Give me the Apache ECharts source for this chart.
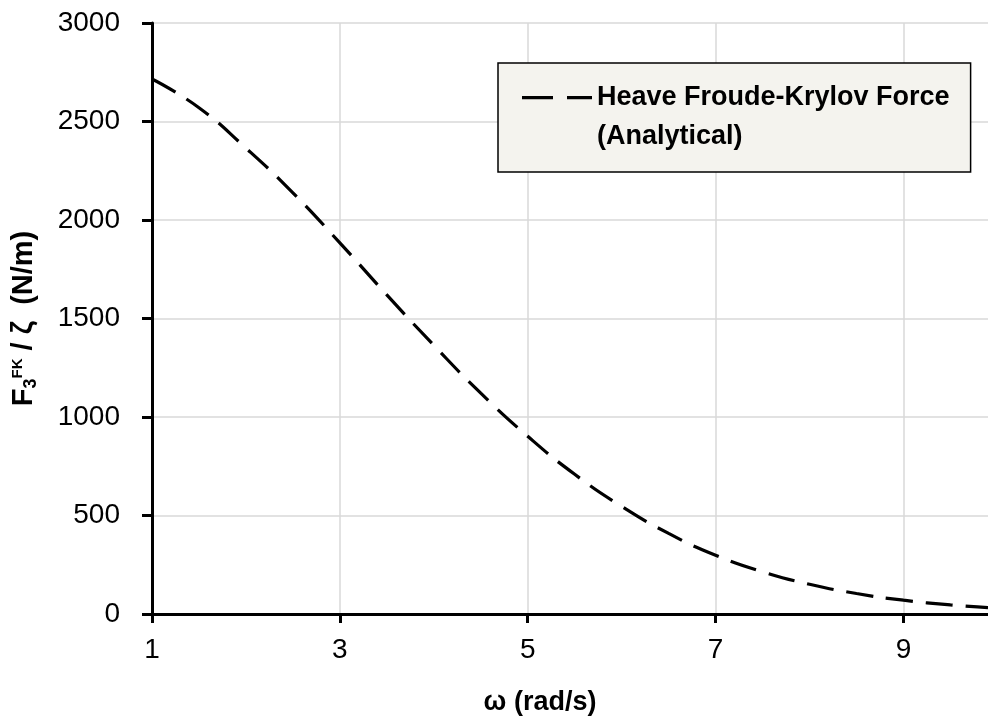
<!DOCTYPE html>
<html>
<head>
<meta charset="utf-8">
<script src="https://cdn.jsdelivr.net/npm/echarts@6/dist/echarts.min.js"></script>
<style>html,body{margin:0;padding:0;background:#fff;}#chart{width:988px;height:720px;}</style>
</head>
<body>
<div id="chart"></div>
<script>
// Data
const omega = [1, 1.5, 2, 2.5, 3, 3.5, 4, 4.5, 5, 5.5, 6, 6.5, 7, 7.5, 8, 8.5, 9, 9.5, 9.9];
const heaveFK = [2716, 2570, 2365, 2138, 1884, 1620, 1364, 1121, 902, 709, 546, 409, 298, 214, 151, 104, 70, 46, 32];
const xTicks = [1, 3, 5, 7, 9];
const seriesName = 'Heave Froude-Krylov Force (Analytical)';
const legendLines = ['Heave Froude-Krylov Force', '(Analytical)'];

const FONT = 'Liberation Sans';
const chart = echarts.init(document.getElementById('chart'));
const pts = omega.map((x, i) => [x, heaveFK[i]]);

chart.setOption({
  animation: false,
  backgroundColor: '#ffffff',
  grid: { left: 152, top: 23, right: 0, bottom: 106, containLabel: false, outerBoundsMode: 'none' },
  xAxis: {
    type: 'value',
    min: 1,
    max: 9.9,
    name: 'ω (rad/s)',
    nameLocation: 'middle',
    nameGap: 75,
    nameTextStyle: { fontFamily: FONT, fontSize: 27, fontWeight: 'bold', color: '#000', padding: [0, 60, 0, 0] },
    axisLine: { show: true, onZero: false, lineStyle: { color: '#000', width: 3 } },
    axisTick: { show: true, inside: false, length: 9, lineStyle: { color: '#000', width: 3 }, customValues: xTicks },
    axisLabel: { fontFamily: FONT, fontSize: 28, color: '#000', margin: 22, customValues: xTicks, formatter: v => String(v) },
    splitLine: { show: true, lineStyle: { color: '#d9d9d9', width: 1.5 }, customValues: xTicks }
  },
  yAxis: {
    type: 'value',
    min: 0,
    max: 3000,
    interval: 500,
    name: '{b|F}{sub|3}{sup|FK}{b| / ζ  (N/m)}',
    nameLocation: 'middle',
    nameGap: 108,
    nameTextStyle: {
      fontFamily: FONT, fontSize: 28, fontWeight: 'bold', color: '#000',
      rich: {
        b: { fontFamily: FONT, fontSize: 29, fontWeight: 'bold', color: '#000', lineHeight: 40, verticalAlign: 'middle' },
        sub: { fontFamily: FONT, fontSize: 18, fontWeight: 'bold', color: '#000', lineHeight: 40, verticalAlign: 'bottom', padding: [0, 0, 4, 0] },
        sup: { fontFamily: FONT, fontSize: 15, fontWeight: 'bold', color: '#000', lineHeight: 40, verticalAlign: 'top', padding: [6, 0, 0, 0] }
      }
    },
    axisLine: { show: true, lineStyle: { color: '#000', width: 3 } },
    axisTick: { show: true, inside: false, length: 10, lineStyle: { color: '#000', width: 3 } },
    axisLabel: { fontFamily: FONT, fontSize: 28, color: '#000', margin: 32, formatter: v => String(v) },
    splitLine: { show: true, lineStyle: { color: '#d9d9d9', width: 1.5 } }
  },
  legend: {
    left: 498,
    top: 63,
    orient: 'vertical',
    padding: [15, 21, 16, 24],
    backgroundColor: '#f4f3ee',
    borderColor: '#000',
    borderWidth: 1.5,
    borderRadius: 0,
    itemWidth: 70,
    itemHeight: 78,
    symbolKeepAspect: false,
    itemStyle: { color: '#000', borderWidth: 0 },
    data: [{
      name: seriesName,
      icon: 'path://M0 0h0.01v0.01h-0.01Z M69.99 77.99h0.01v0.01h-0.01Z M0 18h31v3.2h-31Z M45 18h25v3.2h-25Z'
    }],
    formatter: () => legendLines.join('\n'),
    textStyle: { fontFamily: FONT, fontSize: 27, fontWeight: 'bold', color: '#000', lineHeight: 39 }
  },
  series: [{
    name: seriesName,
    type: 'line',
    data: pts,
    smooth: true,
    symbol: 'none',
    color: '#000',
    lineStyle: { color: '#000', width: 3.2, type: [27, 13], cap: 'butt' },
    clip: true
  }]
});
</script>
</body>
</html>
